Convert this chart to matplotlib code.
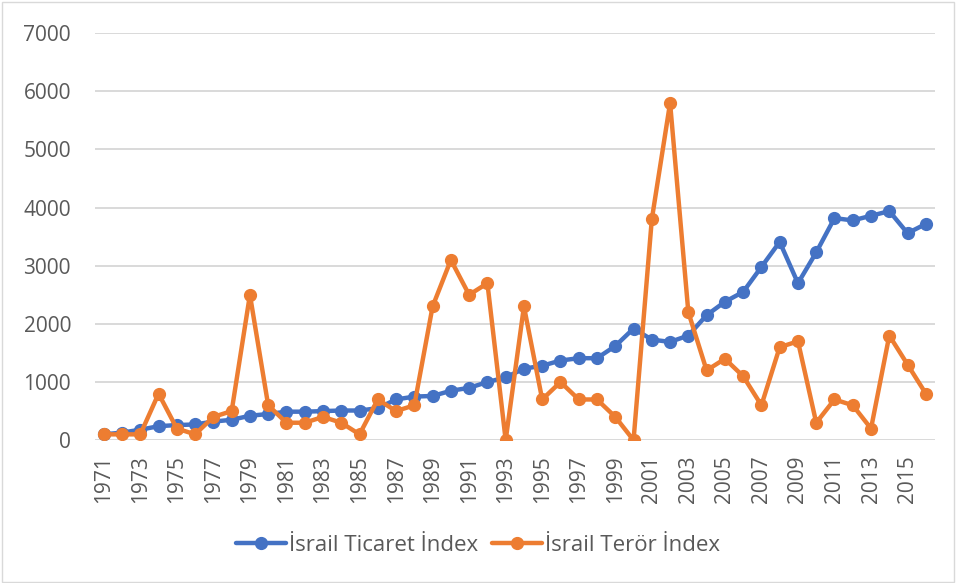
import matplotlib.pyplot as plt
from matplotlib.patches import Rectangle

years = list(range(1971, 2017))

# İsrail Ticaret İndex
ticaret = [100, 130, 180, 240, 260, 270, 320, 350, 420, 450,
           490, 490, 500, 510, 510, 550, 700, 750, 760, 850,
           900, 1000, 1080, 1230, 1280, 1370, 1410, 1410, 1620, 1920,
           1730, 1690, 1800, 2150, 2380, 2550, 2980, 3410, 2700, 3230,
           3820, 3780, 3860, 3940, 3560, 3720]

# İsrail Terör İndex
teror = [100, 100, 100, 800, 200, 100, 400, 500, 2500, 600,
         300, 300, 400, 300, 100, 700, 500, 600, 2300, 3100,
         2500, 2700, 0, 2300, 700, 1000, 700, 700, 400, 0,
         3800, 5800, 2200, 1200, 1400, 1100, 600, 1600, 1700, 300,
         700, 600, 200, 1800, 1300, 800]

plt.rcParams["font.family"] = ["Open Sans", "DejaVu Sans"]
txt = "#595959"
grid = "#d9d9d9"

fig = plt.figure(figsize=(9.56, 5.83), dpi=100)
ax = fig.add_axes([0.099, 0.245, 0.879, 0.698])

ax.plot(years, ticaret, color="#4472C4", lw=3.2, marker="o", ms=8.5,
        label="İsrail Ticaret İndex", solid_capstyle="round", zorder=3)
ax.plot(years, teror, color="#ED7D31", lw=3.2, marker="o", ms=8.5,
        label="İsrail Terör İndex", solid_capstyle="round", zorder=4)

ax.set_xlim(1970.5, 2016.5)
ax.set_ylim(0, 7000)
ax.set_yticks(range(0, 7001, 1000))
ax.set_xticks(years[::2])
ax.set_xticklabels([str(y) for y in years[::2]], rotation=90)
ax.tick_params(axis="both", length=0, labelsize=15, colors=txt)
ax.tick_params(axis="y", pad=17)
ax.tick_params(axis="x", pad=11)
ax.grid(axis="y", color=grid, lw=1.4)
ax.set_axisbelow(True)
for s in ax.spines.values():
    s.set_visible(False)

leg = fig.legend(loc="center", bbox_to_anchor=(0.5, 0.065), ncol=2,
                 frameon=False, fontsize=16, handlelength=2.25,
                 columnspacing=0.6, handletextpad=0.15)
for t in leg.get_texts():
    t.set_color(txt)

fig.patches.append(Rectangle((0.002, 0.002), 0.996, 0.994, transform=fig.transFigure,
                             fill=False, edgecolor=grid, lw=1))

fig.savefig("out.png", dpi=100)
